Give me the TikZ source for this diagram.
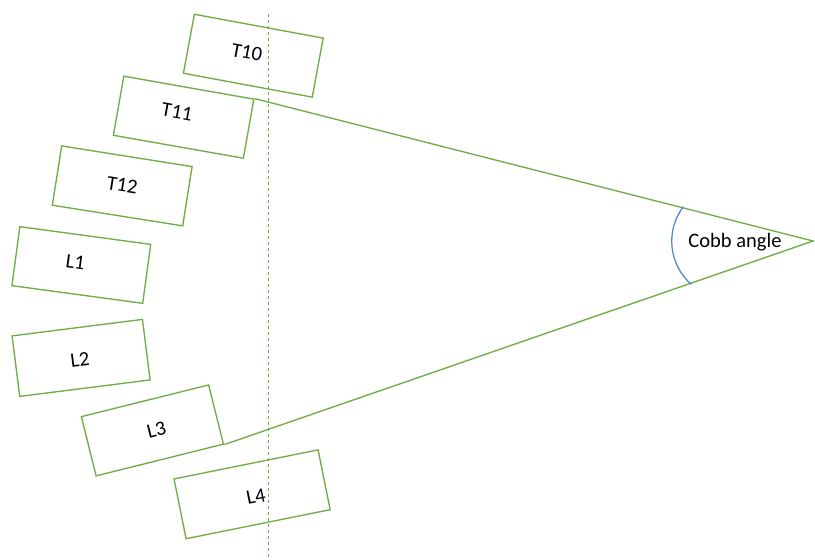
\documentclass[tikz,border=0pt]{standalone}
\usepackage{fontspec}
\setmainfont{Carlito}
\definecolor{vgreen}{HTML}{70AD47}
\definecolor{arcblue}{HTML}{5B86D2}
\begin{document}
\begin{tikzpicture}[x=1pt,y=-1pt,
  vert/.style={draw=vgreen, line width=1.35pt, rectangle, inner sep=0pt,
    minimum height=60pt},
  vlabel/.style={font=\fontsize{20.5}{24}\selectfont, text=black, inner sep=1pt},
  leg/.style={draw=vgreen, line width=1.35pt},
  axisline/.style={draw=vgreen, line width=1.2pt, dash pattern=on 3pt off 3pt}]
\useasboundingbox (0,0) rectangle (815,560);
\clip (0,0) rectangle (815,560);
% vertebrae
\node[vert, minimum width=131pt, rotate=-10.5] (t10) at (253.3,55.7) {};
\node[vert, minimum width=132pt, rotate=-10] (t11) at (183.6,117.2) {};
\node[vert, minimum width=132pt, rotate=-9] (t12) at (122.2,185.9) {};
\node[vert, minimum width=132pt, minimum height=59.5pt, rotate=-7.7] (l1) at (81.3,265) {};
\node[vert, minimum width=131.4pt, minimum height=61pt, rotate=7.2] (l2) at (81.1,357.9) {};
\node[vert, minimum width=131.2pt, minimum height=61pt, rotate=14] (l3) at (152.4,430.4) {};
\node[vert, minimum width=147pt, minimum height=61pt, rotate=11.4] (l4) at (252.1,494.3) {};
% labels
\node[vlabel, rotate=-10.5] (t10lab) at (247,52.5) {T10};
\node[vlabel, rotate=-10] (t11lab) at (177,112) {T11};
\node[vlabel, rotate=-9] (t12lab) at (122.3,185) {T12};
\node[vlabel, rotate=-7.7] (l1lab) at (75.5,262.5) {L1};
\node[vlabel, rotate=7.2] (l2lab) at (80,360) {L2};
\node[vlabel, rotate=14] (l3lab) at (156.5,430) {L3};
\node[vlabel, rotate=11.4] (l4lab) at (256,496.5) {L4};
% vertical reference line
\coordinate (vtop) at (268.3,14);
\coordinate (vbot) at (268.3,560);
\draw[axisline] (vtop) -- (vbot);
% Cobb angle lines
\coordinate (apex) at (813,241);
\draw[leg] (t11.north east) -- (apex) -- (l3.south east);
% angle arc
\coordinate (arcstart) at (683.3,206.7);
\draw[arcblue, line width=1.3pt] (arcstart) arc[start angle=143, end angle=228.5, radius=57.4pt];
\node[font=\fontsize{20.5}{24}\selectfont, text=black] (cobb) at (735,242) {Cobb angle};
\end{tikzpicture}
\end{document}
